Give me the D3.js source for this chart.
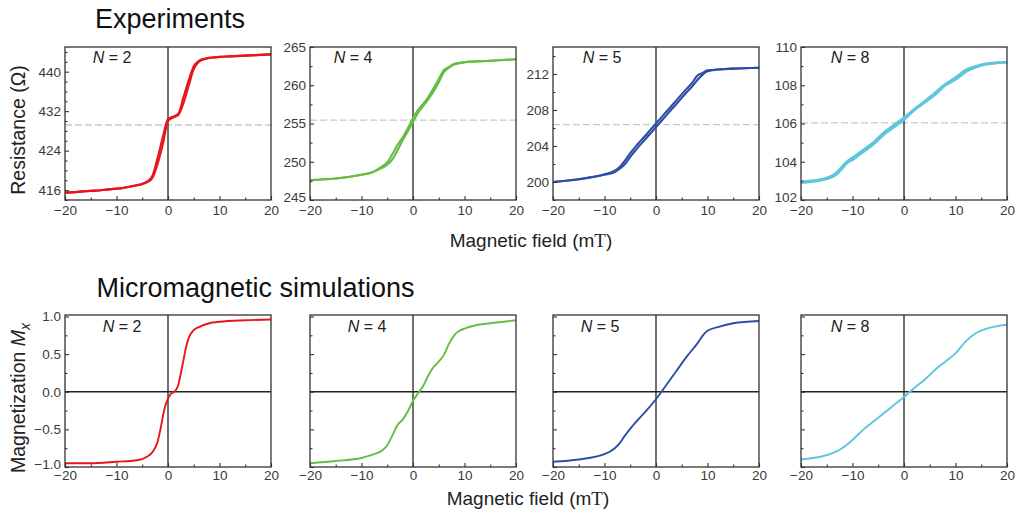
<!DOCTYPE html>
<html><head><meta charset="utf-8">
<script src="https://cdn.jsdelivr.net/npm/d3@7"></script>
<style>
body{margin:0;background:#fff;}
svg{display:block;font-family:"Liberation Sans",Arial,Helvetica,sans-serif;}
</style></head>
<body><svg id="c" width="1022" height="519"></svg>
<script>
// ---------- DATA ----------
const panelLabels = ["N = 2","N = 4","N = 5","N = 8"];
const xTicks = [-20,-10,0,10,20];

// Experiments (two sweep branches each)
const exp2X = [-20,-18,-16,-14,-12,-10,-9,-8,-7,-6,-5,-4,-3,-2,-1,0,1,2,3,4,5,6,7,8,9,10,12,14,16,18,20];
const exp2A = [415.5,415.6,415.8,415.9,416.1,416.3,416.4,416.6,416.8,417.0,417.3,417.8,419.0,422.6,426.8,430.4,430.9,431.5,434.8,438.2,441.1,442.2,442.6,442.8,442.9,443.0,443.1,443.2,443.3,443.4,443.5];
const exp2B = [415.5,415.6,415.8,415.9,416.1,416.3,416.4,416.6,416.8,417.0,417.2,417.6,418.5,421.4,425.3,430.0,430.7,431.2,433.6,437.1,440.5,442.0,442.5,442.8,442.9,443.0,443.1,443.2,443.3,443.4,443.5];
const exp2Ticks = [416,424,432,440];
const exp2Ref = 429.2;

const exp4X = [-20,-15,-10,-8,-6,-5,-4,-3,-2,-1,0,1,2,3,4,5,6,7,8,10,15,20];
const exp4A = [247.6,247.8,248.3,248.6,249.4,249.9,251.0,252.2,253.2,254.4,255.7,256.8,257.6,258.5,259.6,260.8,262.0,262.4,262.8,263.0,263.2,263.4];
const exp4B = [247.6,247.8,248.3,248.6,249.2,249.6,250.3,251.5,252.8,254.0,255.2,256.4,257.3,258.2,259.2,260.4,261.7,262.3,262.7,263.0,263.2,263.4];
const exp4Ticks = [245,250,255,260,265];
const exp4Ref = 255.45;

const exp5X = [-20,-15,-10,-8,-7,-6,-5,-4,-2,0,2,4,6,7,8,9,10,12,15,20];
const exp5A = [200.0,200.3,200.85,201.25,201.7,202.4,203.2,203.9,205.2,206.5,207.8,209.1,210.4,211.0,211.8,212.1,212.4,212.5,212.6,212.7];
const exp5B = [200.0,200.3,200.8,201.1,201.5,202.0,202.8,203.5,204.8,206.1,207.4,208.7,210.0,210.6,211.3,211.9,212.3,212.5,212.6,212.7];
const exp5Ticks = [200,204,208,212];
const exp5Ref = 206.37;

const exp8X = [-20,-18,-16,-14,-13,-12,-11,-10,-8,-6,-4,-2,0,2,4,6,8,10,12,14,16,18,20];
const exp8A = [102.9,102.96,103.04,103.2,103.36,103.65,103.95,104.1,104.5,104.9,105.4,105.8,106.2,106.7,107.1,107.5,108.0,108.3,108.7,108.95,109.1,109.17,109.2];
const exp8B = [102.95,103.0,103.08,103.26,103.45,103.75,104.02,104.2,104.6,105.0,105.5,105.9,106.3,106.75,107.15,107.6,108.05,108.4,108.8,109.0,109.12,109.18,109.2];
const exp8Ticks = [102,104,106,108,110];
const exp8Ref = 106.03;

// Simulations (Mx)
const sim2X = [-20,-15,-10,-6,-4,-3,-2,-1.5,-1,-0.5,0,0.5,1,1.5,2,2.5,3,3.5,4,5,6,8,10,15,20];
const sim2Y = [-0.95,-0.95,-0.93,-0.91,-0.86,-0.80,-0.66,-0.51,-0.33,-0.18,-0.09,-0.03,-0.01,0.02,0.09,0.25,0.42,0.59,0.71,0.82,0.86,0.91,0.93,0.95,0.96];
const sim4X = [-20,-15,-10,-8,-6,-5,-4,-3,-2,-1,0,1,2,3,4,5,6,7,8,9,10,12,15,20];
const sim4Y = [-0.95,-0.92,-0.88,-0.84,-0.78,-0.71,-0.58,-0.44,-0.37,-0.26,-0.12,-0.02,0.08,0.22,0.33,0.40,0.49,0.64,0.75,0.81,0.84,0.88,0.91,0.95];
const sim5X = [-20,-15,-10,-8,-7,-6,-4,-2,0,2,4,6,8,9,10,12,15,20];
const sim5Y = [-0.93,-0.90,-0.83,-0.75,-0.68,-0.58,-0.41,-0.26,-0.10,0.09,0.28,0.47,0.64,0.74,0.81,0.86,0.91,0.94];
const sim8X = [-20,-16,-14,-12,-10,-8,-6,-4,-2,0,2,4,6,8,10,12,14,16,18,20];
const sim8Y = [-0.90,-0.86,-0.82,-0.75,-0.64,-0.51,-0.40,-0.29,-0.18,-0.07,0.05,0.16,0.29,0.40,0.51,0.67,0.78,0.84,0.87,0.89];
const simTicks = [-1.0,-0.5,0.0,0.5,1.0];

const colors = ["#e8151d","#66bd45","#2d4ea6","#5ec6dc"];

// ---------- LAYOUT ----------
const svg = d3.select("#c");
const lefts = [65,310,553,801];
const W = 206;
const topRow = {y0:47, y1:200};
const botRow = {y0:315, y1:467};
const labelOffTop = [47,43,49,49];
const labelOffBot = [57,57,47,49];

const expPanels = [
  {x:exp2X, a:exp2A, b:exp2B, dom:[414,445], ticks:exp2Ticks, minor:2, ref:exp2Ref},
  {x:exp4X, a:exp4A, b:exp4B, dom:[245,265], ticks:exp4Ticks, minor:2.5, ref:exp4Ref},
  {x:exp5X, a:exp5A, b:exp5B, dom:[198,215], ticks:exp5Ticks, minor:2, ref:exp5Ref},
  {x:exp8X, a:exp8A, b:exp8B, dom:[102,110], ticks:exp8Ticks, minor:1, ref:exp8Ref}
];
const simPanels = [
  {x:sim2X, y:sim2Y}, {x:sim4X, y:sim4Y}, {x:sim5X, y:sim5Y}, {x:sim8X, y:sim8Y}
];

const axisColor = "#333";
const tickFont = "13.5px";

function minorRange(dom, step){
  const out=[]; const s=Math.ceil(dom[0]/step-1e-9)*step;
  for(let v=s; v<=dom[1]+1e-9; v+=step) out.push(+v.toFixed(4));
  return out;
}

function drawFrame(g, x, y, row, yTicks, yMinorStep, showYLabels, yFmt, xPad){
  const xMinor = [-15,-5,5,15];
  g.append("g").attr("transform",`translate(0,${row.y1})`)
    .call(d3.axisBottom(x).tickValues(xMinor).tickSize(-2.5).tickFormat(""))
    .call(a=>{a.select(".domain").remove();a.selectAll("line").attr("stroke",axisColor).attr("stroke-width",1.1);});
  g.append("g").attr("transform",`translate(0,${row.y1})`)
    .call(d3.axisBottom(x).tickValues(xTicks).tickSize(-4).tickPadding(xPad).tickFormat(d3.format("d")))
    .call(a=>{a.select(".domain").remove();
      a.selectAll("line").attr("stroke",axisColor).attr("stroke-width",1.1);
      a.selectAll("text").attr("fill","#3a3a3a").style("font-size",tickFont).attr("font-family","Liberation Sans, Arial, sans-serif")
        .text(d=>d<0?"\u2212"+Math.abs(d):d);});
  const minorVals = minorRange(y.domain(), yMinorStep).filter(v=>!yTicks.some(t=>Math.abs(t-v)<1e-6));
  g.append("g").attr("transform",`translate(${x.range()[0]},0)`)
    .call(d3.axisLeft(y).tickValues(minorVals).tickSize(-2.5).tickFormat(""))
    .call(a=>{a.select(".domain").remove();a.selectAll("line").attr("stroke",axisColor).attr("stroke-width",1.1);});
  const lo = y.domain()[0];
  g.append("g").attr("transform",`translate(${x.range()[0]},0)`)
    .call(d3.axisLeft(y).tickValues(yTicks).tickSize(-4).tickPadding(4).tickFormat(showYLabels?yFmt:""))
    .call(a=>{a.select(".domain").remove();
      a.selectAll("line").attr("stroke",axisColor).attr("stroke-width",1.1);
      a.selectAll("text").attr("fill","#3a3a3a").style("font-size",tickFont).attr("font-family","Liberation Sans, Arial, sans-serif")
        .attr("y",d=>Math.abs(d-lo)<1e-6?-2.5:0)
        .text(function(){const s=this.textContent;return s.startsWith("-")?"\u2212"+s.slice(1):s;});});
  g.append("rect").attr("x",x.range()[0]).attr("y",row.y0)
    .attr("width",x.range()[1]-x.range()[0]).attr("height",row.y1-row.y0)
    .attr("fill","none").attr("stroke",axisColor).attr("stroke-width",1.3);
}

function nLabel(g, cx, baseline, txt){
  const parts = txt.split(" = ");
  const t = g.append("text").attr("x",cx).attr("y",baseline).attr("text-anchor","middle")
    .attr("fill","#222").style("font-size","16px");
  t.append("tspan").attr("font-style","italic").text("N");
  t.append("tspan").text(" = "+parts[1]);
}

// ---------- EXPERIMENTS ----------
expPanels.forEach((p,i)=>{
  const g = svg.append("g");
  const x = d3.scaleLinear().domain([-20,20]).range([lefts[i], lefts[i]+W]);
  const y = d3.scaleLinear().domain(p.dom).range([topRow.y1, topRow.y0]);
  g.append("line").attr("x1",x(-20)).attr("x2",x(20)).attr("y1",y(p.ref)).attr("y2",y(p.ref))
    .attr("stroke","#c9c9c9").attr("stroke-width",1.3).attr("stroke-dasharray","7,3");
  g.append("line").attr("x1",x(0)).attr("x2",x(0)).attr("y1",topRow.y0).attr("y2",topRow.y1)
    .attr("stroke","#222").attr("stroke-width",1.3);
  const line = d3.line().x((d,k)=>x(p.x[k])).y(d=>y(d)).curve(d3.curveMonotoneX);
  [p.a,p.b].forEach(arr=>{
    g.append("path").attr("d",line(arr)).attr("fill","none")
      .attr("stroke",colors[i]).attr("stroke-width",i===3?2.6:2.1).attr("stroke-linejoin","round");
  });
  drawFrame(g,x,y,topRow,p.ticks,p.minor,true,d3.format("d"),5);
  nLabel(g, lefts[i]+labelOffTop[i], 63, panelLabels[i]);
});

// ---------- SIMULATIONS ----------
simPanels.forEach((p,i)=>{
  const g = svg.append("g");
  const x = d3.scaleLinear().domain([-20,20]).range([lefts[i], lefts[i]+W]);
  const y = d3.scaleLinear().domain([-1.0,1.02]).range([botRow.y1, botRow.y0]);
  g.append("line").attr("x1",x(0)).attr("x2",x(0)).attr("y1",botRow.y0).attr("y2",botRow.y1)
    .attr("stroke","#222").attr("stroke-width",1.3);
  g.append("line").attr("x1",x(-20)).attr("x2",x(20)).attr("y1",y(0)).attr("y2",y(0))
    .attr("stroke","#222").attr("stroke-width",1.3);
  const line = d3.line().x((d,k)=>x(p.x[k])).y(d=>y(d)).curve(d3.curveMonotoneX);
  g.append("path").attr("d",line(p.y)).attr("fill","none")
    .attr("stroke",colors[i]).attr("stroke-width",1.9);
  drawFrame(g,x,y,botRow,simTicks,0.25,i===0,d3.format(".1f"),3.5);
  nLabel(g, lefts[i]+labelOffBot[i], 331.5, panelLabels[i]);
});

// ---------- TITLES ----------
svg.append("text").attr("x",95).attr("y",28).style("font-size","27px").attr("fill","#111").text("Experiments");
svg.append("text").attr("x",96.5).attr("y",297).style("font-size","27px").attr("fill","#111").text("Micromagnetic simulations");

function xTitle(cx, by){
  const t = svg.append("text").attr("x",cx).attr("y",by).attr("text-anchor","middle")
    .style("font-size","19px").attr("fill","#222");
  t.append("tspan").text("Magnetic field (m");
  t.append("tspan").attr("font-family","Liberation Serif, Times New Roman, serif").text("T");
  t.append("tspan").text(")");
}
xTitle(531,246.5);
xTitle(528,505);

svg.append("text").attr("transform","translate(25,130) rotate(-90)").attr("text-anchor","middle")
  .style("font-size","19.5px").attr("fill","#222").text("Resistance (\u03A9)");
const my = svg.append("text").attr("transform","translate(25,398) rotate(-90)").attr("text-anchor","middle")
  .style("font-size","19.5px").attr("fill","#222");
my.append("tspan").text("Magnetization ");
my.append("tspan").attr("font-style","italic").text("M");
my.append("tspan").attr("font-style","italic").attr("dy",5).style("font-size","14px").text("x");
</script></body></html>
